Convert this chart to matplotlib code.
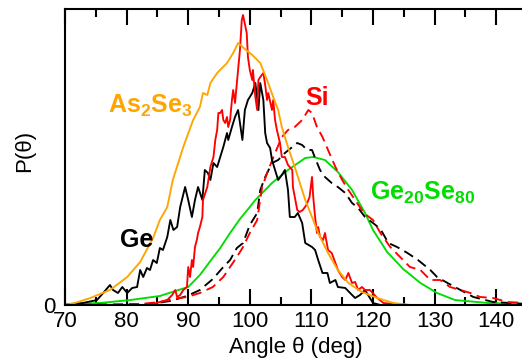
import matplotlib
matplotlib.use("Agg")
import matplotlib.pyplot as plt
from matplotlib.ticker import MultipleLocator

plt.rcParams["font.family"] = ["Liberation Sans", "DejaVu Sans"]
plt.rcParams["mathtext.fontset"] = "custom"
plt.rcParams["mathtext.rm"] = "Liberation Sans"
plt.rcParams["mathtext.bf"] = "Liberation Sans:bold"

# Bond-angle distributions P(theta), arbitrary units
as2se3_angle = [70.0, 71.6, 74.1, 77.3, 80.1, 82.2, 84.3, 85.4, 86.6, 87.5, 89.2, 90.8,
                91.9, 92.4, 93.1, 93.6, 94.7, 96.3, 97.3, 98.1, 99.2, 100.4, 101.7,
                102.8, 103.8, 104.6, 105.2, 106.2, 107.3, 109.0, 110.1, 111.1, 112.7,
                114.3, 116.0, 118.2, 120.7, 123.3, 126.0, 145.0]
as2se3_p = [0, 2, 7, 15, 28, 43, 67, 85, 98, 125, 158, 185,
            198, 212, 210, 222, 232, 242, 252, 262, 256, 250, 242,
            225, 208, 195, 178, 158, 138, 105, 88, 72, 52,
            35, 22, 13, 7, 2, 0, 0]

gese_angle = [70.0, 75.7, 80.6, 85.4, 87.9, 90.0, 91.9, 93.6, 95.2, 96.8, 98.4, 100.0,
              100.9, 103.6, 106.2, 109.0, 110.3, 112.2, 114.3, 116.6, 118.7, 120.0,
              122.3, 124.9, 127.7, 130.4, 133.3, 138.7, 145.0]
gese_p = [1, 2, 5, 9, 14, 18, 30, 44, 57, 72, 86, 98,
          105, 122, 135, 147, 148, 145, 133, 115, 92, 75,
          53, 36, 22, 12, 5, 2, 1]

ge_angle = [70.0, 72.9, 75.2, 76.2, 77.3, 77.8, 78.6, 79.3, 80.1, 80.9, 81.7, 82.2,
            82.7, 83.3, 83.8, 84.3, 84.9, 85.4, 85.9, 86.6, 87.1, 87.6, 88.2, 88.7,
            89.5, 90.0, 90.6, 91.1, 91.6, 92.3, 92.7, 93.2, 93.6, 94.1, 94.7, 95.2,
            95.7, 96.3, 96.5, 97.1, 97.6, 98.1, 98.8, 99.2, 99.7, 100.4, 100.9,
            101.4, 101.7, 102.2, 102.5, 102.8, 103.3, 103.6, 104.1, 104.6, 105.2,
            105.7, 106.2, 106.5, 107.3, 107.8, 108.5, 109.0, 110.1, 110.6, 111.1,
            111.8, 112.6, 113.0, 113.9, 114.3, 115.5, 116.6, 117.1, 117.9, 118.7,
            120.0, 121.2, 145.0]
ge_p = [0, 2, 5, 12, 20, 15, 12, 18, 12, 17, 18, 35,
        28, 37, 35, 45, 42, 57, 55, 68, 85, 75, 78, 98,
        118, 105, 88, 105, 118, 105, 135, 132, 125, 142, 138, 148,
        158, 172, 165, 178, 188, 195, 165, 195, 205, 212, 222,
        195, 222, 205, 172, 162, 157, 145, 135, 125, 130,
        135, 115, 88, 88, 92, 82, 62, 58, 55, 45,
        32, 32, 22, 25, 18, 17, 10, 7, 10, 15,
        2, 0, 0]

si_angle = [70.0, 83.8, 85.4, 86.6, 87.4, 87.9, 88.2, 88.7, 89.2, 89.8, 90.0, 90.3,
            90.6, 90.8, 91.1, 91.4, 91.6, 91.9, 92.3, 92.4, 93.1, 93.6, 94.1, 94.4,
            94.7, 94.9, 95.2, 95.5, 95.7, 96.0, 96.3, 96.5, 96.8, 97.1, 97.3, 97.6,
            97.9, 98.4, 98.7, 98.9, 99.5, 99.7, 100.0, 100.4, 100.5, 100.9, 101.2,
            101.4, 101.7, 102.2, 102.5, 102.8, 103.0, 103.6, 103.8, 104.1, 104.4,
            104.9, 105.2, 105.7, 106.2, 106.9, 107.0, 107.7, 108.1, 108.6, 109.2,
            109.7, 110.1, 110.3, 110.6, 110.9, 111.1, 111.4, 111.9, 112.2, 112.7,
            113.3, 113.9, 114.3, 115.0, 115.5, 116.0, 116.6, 117.1, 117.6, 118.2,
            118.7, 119.5, 120.7, 121.7, 123.3, 126.0, 145.0]
si_p = [0, 0, 3, 5, 10, 15, 8, 10, 15, 18, 38, 28,
        45, 38, 58, 65, 72, 78, 88, 105, 118, 138, 148, 165,
        175, 192, 192, 195, 185, 182, 188, 178, 185, 205, 215, 202,
        222, 255, 285, 290, 272, 248, 235, 225, 235, 208, 195,
        225, 228, 232, 220, 205, 212, 195, 205, 185, 175,
        162, 148, 148, 140, 135, 118, 95, 93, 95, 100,
        108, 128, 108, 88, 72, 78, 68, 65, 72, 55,
        52, 42, 35, 28, 25, 32, 22, 23, 15, 18,
        15, 15, 7, 2, 1, 0, 0]

si_dash_angle = [70.0, 80.6, 85.4, 87.5, 89.8, 91.9, 94.0, 95.7, 96.8, 97.9, 98.9,
                 100.0, 101.2, 102.0, 103.0, 104.1, 105.2, 106.2, 107.3, 108.5, 109.5,
                 110.1, 110.9, 111.8, 112.7, 113.9, 115.0, 116.0, 117.1, 118.5, 120.0,
                 121.2, 122.8, 124.4, 126.0, 127.7, 129.3, 130.9, 132.5, 134.2, 135.8,
                 137.4, 139.5, 141.8, 145.0]
si_dash_p = [0, 0, 3, 6, 8, 12, 18, 28, 38, 48, 58,
             72, 85, 118, 135, 152, 168, 175, 178, 185, 195,
             192, 178, 168, 155, 138, 125, 115, 105, 92, 85,
             72, 58, 48, 38, 35, 25, 25, 18, 15, 12,
             8, 7, 3, 2]

ge_dash_angle = [70.0, 83.8, 87.1, 89.8, 91.9, 94.0, 95.7, 96.8, 97.9, 98.9, 100.0,
                 101.2, 101.7, 102.5, 103.6, 104.6, 105.7, 106.9, 107.7, 108.5, 109.3,
                 110.1, 110.6, 111.4, 112.2, 113.3, 114.3, 115.5, 116.6, 117.6, 118.7,
                 120.0, 121.2, 122.5, 123.9, 125.6, 127.3, 129.3, 130.4, 132.1, 134.2,
                 136.3, 139.5, 145.0]
ge_dash_p = [0, 1, 4, 9, 15, 26, 38, 45, 57, 62, 80,
             92, 115, 128, 142, 145, 152, 158, 162, 160, 155,
             155, 147, 135, 128, 122, 118, 112, 102, 97, 88,
             82, 76, 62, 58, 52, 45, 35, 28, 22, 15,
             8, 3, 1]

x_ticks = [70, 80, 90, 100, 110, 120, 130, 140]

ORANGE = "#ffa500"
RED = "#ff0000"
GREEN = "#00dd00"

fig = plt.figure(figsize=(5.22, 3.63), dpi=100)
ax = fig.add_axes([65 / 522, 58 / 363, 462 / 522, 296 / 363])

lw = 1.35
ax.plot(gese_angle, gese_p, color=GREEN, lw=lw)
ax.plot(ge_dash_angle, ge_dash_p, color="black", lw=lw, dashes=(5.5, 3))
ax.plot(si_dash_angle, si_dash_p, color=RED, lw=lw, dashes=(5.5, 3))
ax.plot(ge_angle, ge_p, color="black", lw=lw)
ax.plot(si_angle, si_p, color=RED, lw=lw)
ax.plot(as2se3_angle, as2se3_p, color=ORANGE, lw=lw)

ax.set_xlim(70, 145)
ax.set_ylim(0, 296)

ax.spines["right"].set_visible(False)
for side in ("left", "top", "bottom"):
    ax.spines[side].set_linewidth(1.5)

ax.set_xticks(x_ticks)
ax.set_xticklabels([str(t) for t in x_ticks])
ax.xaxis.set_minor_locator(MultipleLocator(5))
ax.tick_params(axis="x", which="major", direction="in", length=11.5, width=1.5,
               top=True, labelsize=16, pad=4)
ax.tick_params(axis="x", which="minor", direction="in", length=5.8, width=1.5, top=True)
ax.set_yticks([0])
ax.set_yticklabels(["0"])
ax.tick_params(axis="y", length=0, labelsize=16, pad=7)

fig.text(296 / 522, 1 - 347 / 363, "Angle θ (deg)", fontsize=16, ha="center", va="center")
fig.text(25 / 522, 1 - 151 / 363, "P(θ)", fontsize=16, rotation=90, ha="center", va="center")

ax.text(77.0, 192, r"As$_\mathbf{2}$Se$_\mathbf{3}$", color=ORANGE, fontsize=18,
        fontweight="bold", ha="left", va="baseline")
ax.text(109.0, 200, "Si", color=RED, fontsize=18, fontweight="bold",
        ha="left", va="baseline")
ax.text(78.9, 58, "Ge", color="black", fontsize=18, fontweight="bold",
        ha="left", va="baseline")
ax.text(119.5, 105, r"Ge$_\mathbf{20}$Se$_\mathbf{80}$", color=GREEN, fontsize=18,
        fontweight="bold", ha="left", va="baseline")

fig.savefig("out.png", dpi=100)
